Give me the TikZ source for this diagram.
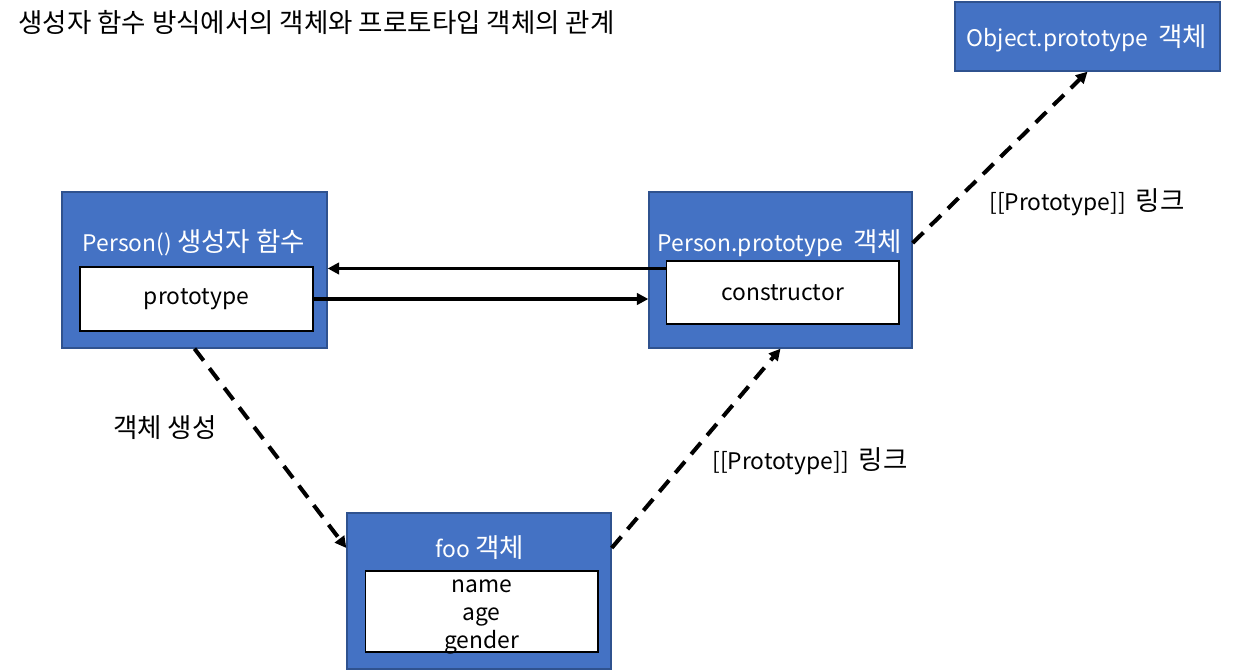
\documentclass[tikz,border=0pt]{standalone}
\usepackage{fontspec}
\setmainfont{Noto Sans CJK KR}
\newfontfamily\krfont[Scale=1.16]{Noto Sans CJK KR}
\newcommand{\kr}[1]{{\krfont #1}}
\usetikzlibrary{arrows.meta,calc}
\definecolor{boxblue}{HTML}{4472C4}
\definecolor{boxedge}{HTML}{2F528F}
\tikzset{
  objbox/.style   ={rectangle,draw=boxedge,fill=boxblue,line width=0.8pt,inner sep=0pt},
  boxtitle/.style ={text=white,inner sep=0pt,font=\fontsize{13}{15}\selectfont},
  slotbox/.style  ={rectangle,draw=black,fill=white,line width=0.6pt,inner sep=0pt,
                    font=\fontsize{13}{15}\selectfont},
  note/.style     ={inner sep=0pt,font=\fontsize{13}{15}\selectfont},
  reflink/.style  ={-{Triangle[length=6.5pt,width=6.5pt]},line width=1.9pt},
  protolink/.style={-{Triangle[length=6.5pt,width=6.5pt]},line width=2.3pt,
                    dash pattern=on 8.5pt off 5.5pt},
}
\begin{document}
\begin{tikzpicture}[x=0.02cm,y=-0.02cm]
  \useasboundingbox (0,0) rectangle (1243,670);
  \node[note,anchor=west] (title) at (18,22) {\kr{생성자 함수 방식에서의 객체와 프로토타입 객체의 관계}};

  % Person() 생성자 함수
  \node[objbox,minimum width=5.3cm,minimum height=3.12cm] (person) at (194.5,270) {};
  \node[boxtitle] (persontitle) at (194,243) {Person() \kr{생성자 함수}};
  \node[slotbox,minimum width=4.66cm,minimum height=1.28cm] (proto) at (196.5,299) {prototype};

  % Person.prototype 객체
  \node[objbox,minimum width=5.26cm,minimum height=3.12cm] (pproto) at (780.5,270) {};
  \node[boxtitle] (pprototitle) at (780,243) {Person.prototype\ \ \kr{객체}};
  \node[slotbox,minimum width=4.66cm,minimum height=1.26cm] (ctor) at (782.5,292.5) {constructor};

  % Object.prototype 객체
  \node[objbox,minimum width=5.3cm,minimum height=1.38cm] (oproto) at (1087.5,36.5) {};
  \node[boxtitle] (oprototitle) at (1087,38) {Object.prototype\ \ \kr{객체}};

  % foo 객체
  \node[objbox,minimum width=5.28cm,minimum height=3.12cm] (foo) at (479,591) {};
  \node[boxtitle] (footitle) at (480,548) {foo \kr{객체}};
  \node[slotbox,minimum width=4.66cm,minimum height=1.62cm] (fields) at (481.5,611.5) {};
  \node[note,align=center,font=\fontsize{13}{16.2}\selectfont] (fieldnames) at (481.5,617) {name\\age\\gender};

  % links
  \draw[reflink] ($(ctor.north west)+(0,8)$) -- (person.east |- {$(ctor.north west)+(0,8)$});
  \draw[reflink] (proto.east) -- (pproto.west |- proto.east);
  \draw[protolink] (person.south) -- (foo.west |- footitle);
  \draw[protolink] (foo.east |- footitle) -- (pproto.south);
  \draw[protolink] (pproto.east |- pprototitle) -- (oproto.south);

  \node[note] (newlabel) at (165,428) {\kr{객체 생성}};
  \node[note] (foolink) at (810,461) {[[Prototype]]\ \ \kr{링크}};
  \node[note] (pprotolink) at (1087,202) {[[Prototype]]\ \ \kr{링크}};
\end{tikzpicture}
\end{document}
